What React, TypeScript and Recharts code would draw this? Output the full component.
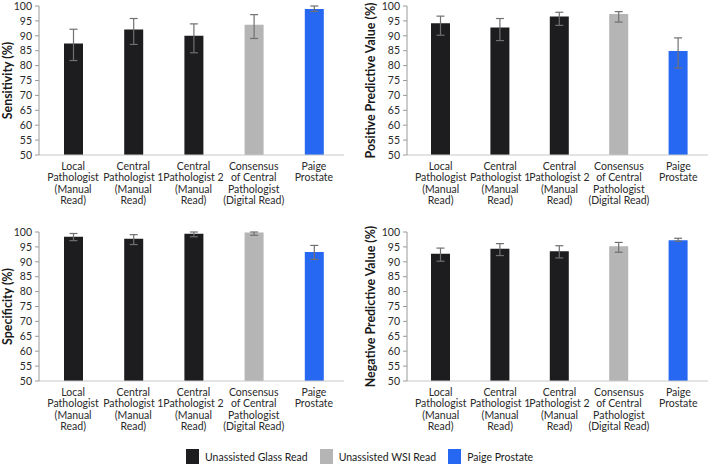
import React from 'react';
import { BarChart, Bar, XAxis, YAxis, ErrorBar, Cell } from 'recharts';

const FONT = 'Lato, "Open Sans", sans-serif';

const CATEGORIES = ['local', 'central1', 'central2', 'consensus', 'paige'];
const CATEGORY_LINES: string[][] = [
  ['Local', 'Pathologist', '(Manual', 'Read)'],
  ['Central', 'Pathologist 1', '(Manual', 'Read)'],
  ['Central', 'Pathologist 2', '(Manual', 'Read)'],
  ['Consensus', 'of Central', 'Pathologist', '(Digital Read)'],
  ['Paige', 'Prostate'],
];
const CATEGORY_COLORS = ['#1d1d20', '#1d1d20', '#1d1d20', '#b5b5b5', '#2768f2'];

const Y_TICKS = [50, 55, 60, 65, 70, 75, 80, 85, 90, 95, 100];

// values and 95% CI bounds
const SENSITIVITY = [87.4, 92.1, 90.0, 93.7, 99.0];
const SENSITIVITY_LO = [81.7, 87.1, 84.3, 89.1, 98.2];
const SENSITIVITY_HI = [92.2, 95.8, 94.0, 97.1, 100];

const PPV = [94.2, 92.8, 96.5, 97.3, 84.9];
const PPV_LO = [90.2, 88.4, 93.5, 94.6, 79.2];
const PPV_HI = [96.6, 95.8, 97.9, 98.1, 89.3];

const SPECIFICITY = [98.4, 97.7, 99.4, 99.8, 93.3];
const SPECIFICITY_LO = [97.1, 95.8, 98.4, 98.9, 90.8];
const SPECIFICITY_HI = [99.5, 99.1, 100, 100, 95.5];

const NPV = [92.7, 94.4, 93.5, 95.2, 97.2];
const NPV_LO = [90.2, 92.1, 91.3, 93.2, 96.9];
const NPV_HI = [94.6, 96.1, 95.4, 96.5, 97.9];

const LEGEND_ITEMS = [
  { label: 'Unassisted Glass Read', color: '#1d1d20' },
  { label: 'Unassisted WSI Read', color: '#b5b5b5' },
  { label: 'Paige Prostate', color: '#2768f2' },
];

function buildRows(values: number[], lo: number[], hi: number[]) {
  return CATEGORIES.map((key, i) => ({
    key,
    value: values[i],
    err: [values[i] - lo[i], hi[i] - values[i]],
  }));
}

const CategoryTick = (props: any) => {
  const { x, y, payload } = props;
  const idx = CATEGORIES.indexOf(payload.value);
  const lines = CATEGORY_LINES[idx] ?? [];
  return (
    <text x={x} y={y} textAnchor="middle" fontFamily={FONT} fontSize={10.5} fill="#2a2a2a">
      {lines.map((line, i) => (
        <tspan key={i} x={x} dy={i === 0 ? 7 : 11.4}>
          {line}
        </tspan>
      ))}
    </text>
  );
};

const yLabel = (text: string, dx: number) => (props: any) => {
  const vb = props.viewBox;
  const cx = vb.x + dx;
  const cy = vb.y + vb.height / 2;
  return (
    <text
      x={cx}
      y={cy}
      transform={`rotate(-90, ${cx}, ${cy})`}
      textAnchor="middle"
      dominantBaseline="central"
      fontFamily={FONT}
      fontSize={12.4}
      fontWeight={700}
      fill="#1a1a1a"
    >
      {text}
    </text>
  );
};

interface PanelProps {
  left: number;
  top: number;
  width: number;
  axisWidth: number;
  labelX: number;
  title: string;
  values: number[];
  lo: number[];
  hi: number[];
}

function Panel({ left, top, width, axisWidth, labelX, title, values, lo, hi }: PanelProps) {
  const rows = buildRows(values, lo, hi);
  return (
    <div style={{ position: 'absolute', left, top }}>
      <BarChart
        width={width}
        height={212}
        data={rows}
        margin={{ top: 6, right: 1, bottom: 0, left: 0 }}
        barCategoryGap={0}
      >
        <XAxis
          dataKey="key"
          interval={0}
          tickLine={false}
          axisLine={{ stroke: '#c8c8c8' }}
          tick={<CategoryTick />}
          height={57}
          padding={{ left: 4, right: 0 }}
        />
        <YAxis
          domain={[50, 100]}
          ticks={Y_TICKS}
          interval={0}
          width={axisWidth}
          tickSize={4}
          tickMargin={3}
          tickLine={{ stroke: '#9a9a9a' }}
          axisLine={{ stroke: '#9a9a9a' }}
          tick={{ fontFamily: FONT, fontSize: 10.5, fill: '#2a2a2a' }}
          allowDataOverflow
          label={{ content: yLabel(title, labelX) }}
        />
        <Bar dataKey="value" barSize={19} isAnimationActive={false}>
          {rows.map((row, i) => (
            <Cell key={row.key} fill={CATEGORY_COLORS[i]} />
          ))}
          <ErrorBar dataKey="err" width={4} stroke="#707070" strokeWidth={1.2} isAnimationActive={false} />
        </Bar>
      </BarChart>
    </div>
  );
}

export default function App() {
  return (
    <div
      style={{
        position: 'absolute',
        left: 0,
        top: 0,
        width: 709,
        height: 468,
        background: '#ffffff',
        overflow: 'hidden',
      }}
    >
      <Panel left={0} top={0} width={345} axisWidth={39} labelX={7} title="Sensitivity (%)"
        values={SENSITIVITY} lo={SENSITIVITY_LO} hi={SENSITIVITY_HI} />
      <Panel left={355} top={0} width={354} axisWidth={52} labelX={15} title="Positive Predictive Value (%)"
        values={PPV} lo={PPV_LO} hi={PPV_HI} />
      <Panel left={0} top={226} width={345} axisWidth={39} labelX={7} title="Specificity (%)"
        values={SPECIFICITY} lo={SPECIFICITY_LO} hi={SPECIFICITY_HI} />
      <Panel left={355} top={226} width={354} axisWidth={52} labelX={15} title="Negative Predictive Value (%)"
        values={NPV} lo={NPV_LO} hi={NPV_HI} />
      <div
        style={{
          position: 'absolute',
          left: 186,
          top: 449,
          display: 'flex',
          alignItems: 'center',
          fontFamily: FONT,
          fontSize: 10.5,
          color: '#1a1a1a',
          whiteSpace: 'nowrap',
        }}
      >
        {LEGEND_ITEMS.map((item, i) => (
          <div key={item.label} style={{ display: 'flex', alignItems: 'center', marginLeft: i === 0 ? 0 : 12 }}>
            <span style={{ display: 'inline-block', width: 13, height: 15, background: item.color, marginRight: 6 }} />
            <span>{item.label}</span>
          </div>
        ))}
      </div>
    </div>
  );
}
